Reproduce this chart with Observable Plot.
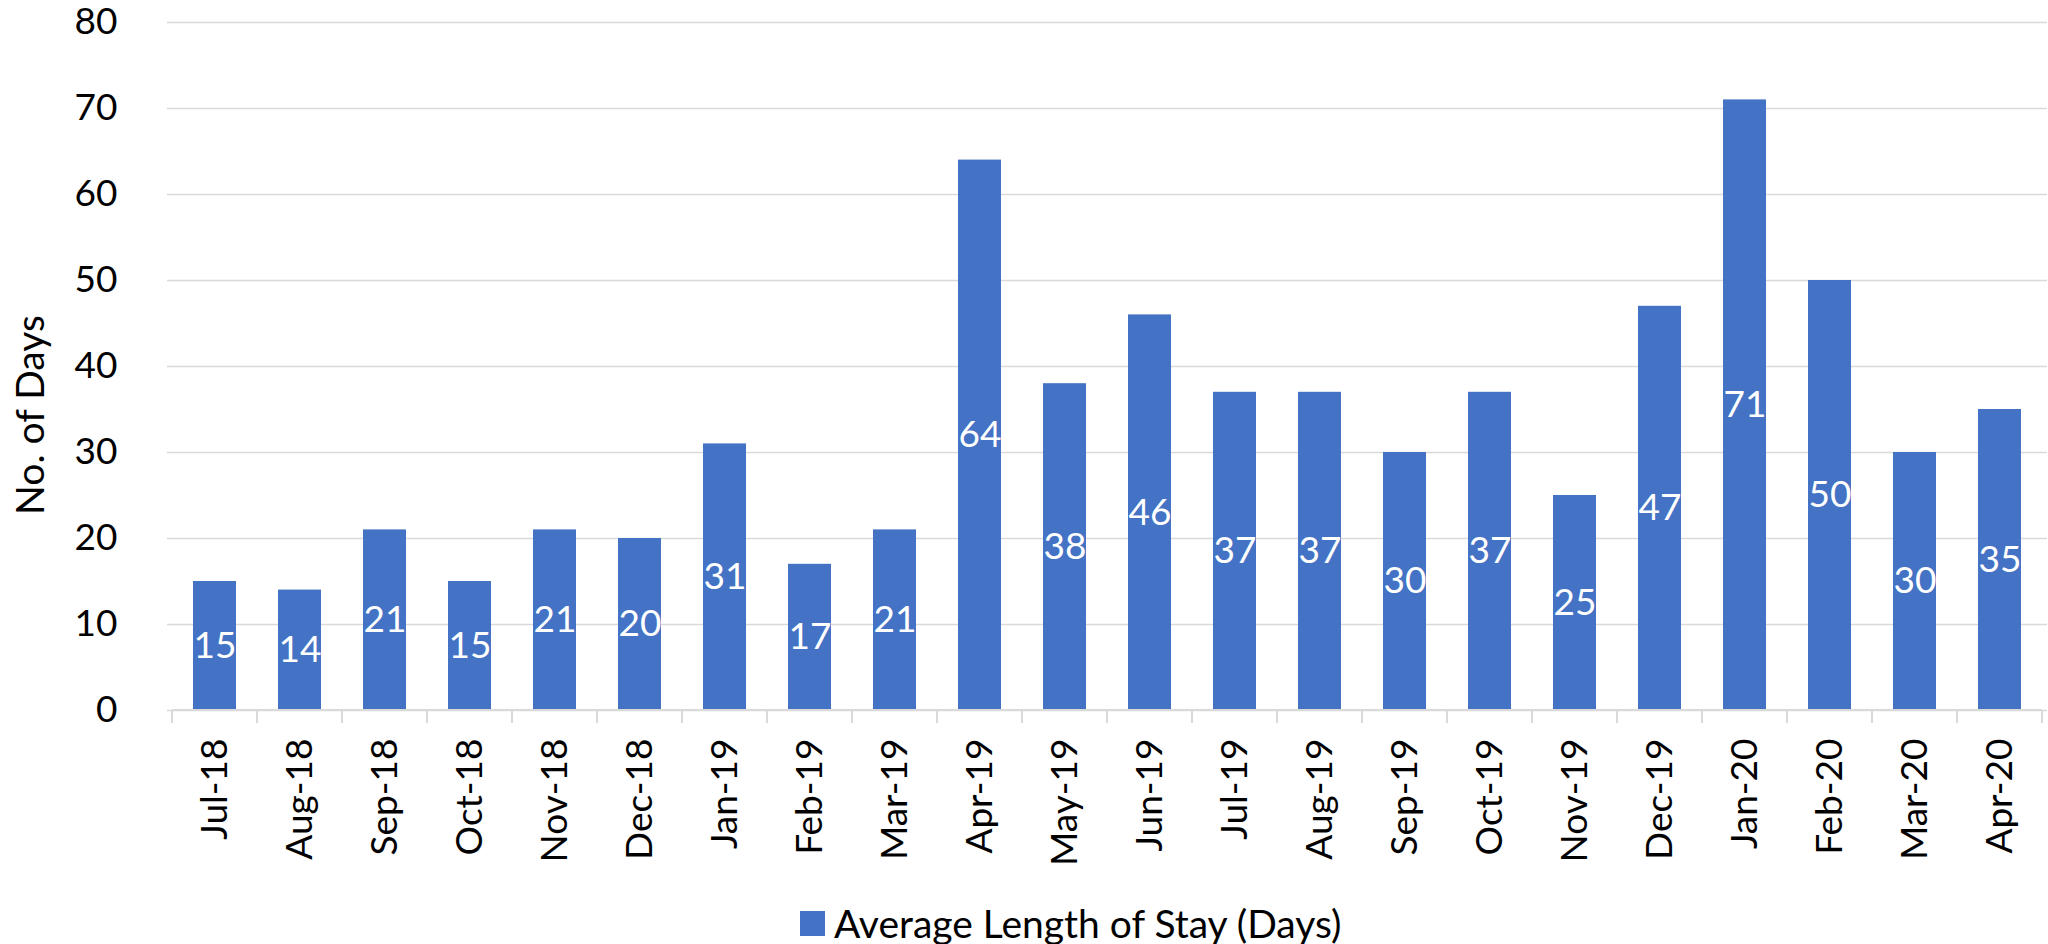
<!DOCTYPE html>
<html>
<head>
<meta charset="utf-8">
<script src="https://cdn.jsdelivr.net/npm/d3@7"></script>
<script src="https://cdn.jsdelivr.net/npm/@observablehq/plot@0.6"></script>
<style>
  html, body { margin: 0; padding: 0; background: #fff; }
  body { width: 2048px; height: 944px; overflow: hidden; font-family: Lato, sans-serif; }
  #chart svg { display: block; }
  #legend { position: relative; height: 74px; margin-top: 16px; font-size: 39px; color: #000; }
  #legend .sw { position: absolute; left: 800px; top: 25px; width: 25px; height: 25px; background: #4472C4; }
  #legend .lbl { position: absolute; left: 834px; top: 0; line-height: 74px; white-space: nowrap; }
</style>
</head>
<body>
<div id="chart"></div>
<div id="legend"><span class="sw"></span><span class="lbl" id="legendText"></span></div>
<script>
const months = ["Jul-18","Aug-18","Sep-18","Oct-18","Nov-18","Dec-18","Jan-19","Feb-19","Mar-19","Apr-19","May-19","Jun-19","Jul-19","Aug-19","Sep-19","Oct-19","Nov-19","Dec-19","Jan-20","Feb-20","Mar-20","Apr-20"];
const days = [15,14,21,15,21,20,31,17,21,64,38,46,37,37,30,37,25,47,71,50,30,35];
const yTicks = [0,10,20,30,40,50,60,70,80];
const seriesName = "Average Length of Stay (Days)";
const yLabel = "No. of Days";

document.getElementById("legendText").textContent = seriesName;

const data = months.map((m, i) => ({month: m, value: days[i]}));

const boundaryTicks = (index, scales, values, dimensions) => {
  const x = scales.x, y = scales.y;
  const step = x.step ? x.step() : x.bandwidth();
  const y0 = y(0);
  const g = d3.create("svg:g");
  const xs = months.map(m => x(m) - (step - x.bandwidth()) / 2);
  xs.push(xs[xs.length - 1] + step);
  g.selectAll("line").data(xs).join("line")
    .attr("x1", d => d).attr("x2", d => d)
    .attr("y1", y0).attr("y2", y0 + 13)
    .attr("stroke", "#d9d9d9").attr("stroke-width", 2);
  g.append("line")
    .attr("x1", xs[0]).attr("x2", xs[xs.length - 1])
    .attr("y1", y0).attr("y2", y0)
    .attr("stroke", "#d9d9d9").attr("stroke-width", 2);
  return g.node();
};

const yTitle = (index, scales, values, dimensions) => {
  const {marginLeft, marginTop, height, marginBottom} = dimensions;
  const cy = (marginTop + height - marginBottom) / 2 + 49;
  const t = d3.create("svg:text")
    .attr("transform", `translate(${marginLeft - 138},${cy}) rotate(-90)`)
    .attr("text-anchor", "middle")
    .attr("dominant-baseline", "central")
    .attr("font-size", 39)
    .attr("fill", "#000")
    .text(yLabel);
  return t.node();
};

const chart = Plot.plot({
  width: 2048,
  height: 870,
  marginLeft: 167,
  marginRight: 1,
  marginTop: 22,
  marginBottom: 160,
  style: {fontFamily: "Lato, sans-serif", fontSize: "36px", color: "#000", background: "#fff", overflow: "visible"},
  x: {domain: months, paddingInner: 0.5, paddingOuter: 0.25, align: 0.5, label: null},
  y: {domain: [0, 80], label: null},
  marks: [
    Plot.gridY(yTicks, {stroke: "#d9d9d9", strokeOpacity: 1, strokeWidth: 1.5}),
    Plot.barY(data, {x: "month", y: "value", fill: "#4472C4"}),
    boundaryTicks,
    Plot.text(data, {x: "month", y: d => d.value / 2, text: d => String(d.value), fill: "#fff", fontSize: 37}),
    Plot.axisY({ticks: yTicks, tickSize: 0, tickPadding: 50, fontSize: 37, label: null}),
    Plot.axisX({tickSize: 0, tickRotate: -90, tickPadding: 28, fontSize: 37, label: null}),
    yTitle
  ]
});
document.getElementById("chart").appendChild(chart);
</script>
</body>
</html>
